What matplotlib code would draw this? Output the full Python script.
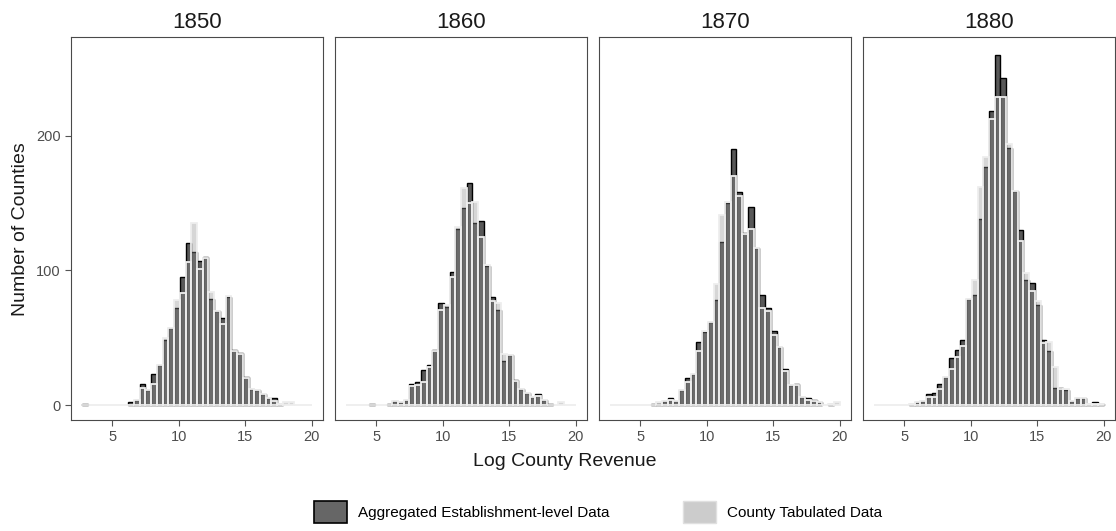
import numpy as np
import matplotlib.pyplot as plt
from matplotlib.patches import Patch

plt.rcParams['font.family'] = ['Liberation Sans', 'DejaVu Sans']

# histogram bins (log county revenue)
bin_edges = np.linspace(2.77, 20.0, 41)

years = ['1850', '1860', '1870', '1880']

# Aggregated establishment-level data (counts per bin)
estab_1850 = [1, 0, 0, 0, 0, 0, 0, 0, 2, 4, 16, 11, 23, 30, 48, 57, 72, 95, 120, 114,
              107, 110, 79, 70, 65, 80, 41, 39, 21, 12, 11, 8, 5, 5, 1, 0, 0, 0, 0, 0]
estab_1860 = [0, 0, 0, 0, 1, 0, 0, 1, 3, 2, 4, 16, 17, 26, 30, 41, 76, 73, 99, 131,
              146, 165, 135, 137, 103, 80, 71, 33, 37, 19, 12, 9, 6, 8, 4, 1, 0, 0, 0, 0]
estab_1870 = [0, 0, 0, 0, 0, 0, 0, 1, 1, 3, 5, 3, 11, 20, 23, 47, 54, 62, 78, 121,
              150, 190, 158, 128, 147, 117, 82, 72, 55, 43, 27, 15, 16, 6, 5, 4, 2, 0, 1, 0]
estab_1880 = [0, 0, 0, 0, 0, 0, 1, 2, 3, 8, 9, 16, 21, 35, 41, 48, 79, 82, 138, 177,
              218, 260, 243, 191, 159, 130, 93, 91, 74, 48, 40, 13, 13, 11, 3, 5, 5, 1, 2, 1]

# County tabulated data (counts per bin)
county_1850 = [0, 0, 0, 0, 0, 0, 0, 0, 0, 4, 13, 11, 16, 30, 50, 57, 78, 83, 106, 135,
               101, 109, 84, 70, 60, 81, 40, 38, 20, 12, 11, 8, 5, 3, 1, 2, 2, 0, 0, 0]
county_1860 = [0, 0, 0, 0, 0, 0, 0, 0, 3, 2, 4, 14, 15, 17, 28, 40, 71, 74, 95, 132,
               161, 150, 151, 125, 104, 77, 76, 38, 37, 18, 12, 9, 6, 7, 4, 0, 0, 2, 0, 0]
county_1870 = [0, 0, 0, 0, 0, 0, 0, 0, 2, 3, 4, 3, 11, 17, 23, 40, 55, 62, 90, 141,
               151, 170, 155, 127, 131, 117, 72, 70, 52, 43, 25, 15, 15, 6, 4, 3, 2, 0, 1, 2]
county_1880 = [0, 0, 0, 0, 0, 0, 1, 2, 3, 6, 6, 12, 21, 27, 36, 44, 79, 93, 162, 184,
               212, 229, 229, 194, 159, 122, 98, 85, 77, 46, 47, 28, 12, 12, 3, 5, 5, 1, 1, 1]

estab = [estab_1850, estab_1860, estab_1870, estab_1880]
county = [county_1850, county_1860, county_1870, county_1880]

dark_fill = '#585858'
light_fill = (0.56, 0.56, 0.56, 0.36)
light_edge = '#eeeeee'
frame_col = '#4a4a4a'
tick_col = '#555555'

W, H = 1116, 531
fig = plt.figure(figsize=(W / 100, H / 100), dpi=100)

left0, step, pw = 71, 264, 252
top, bottom = 37.3, 420
widths = np.diff(bin_edges)

for k, year in enumerate(years):
    ax = fig.add_axes([(left0 + k * step) / W, 1 - bottom / H, pw / W, (bottom - top) / H])
    e = np.array(estab[k])
    c = np.array(county[k])
    m = e > 0
    ax.bar(bin_edges[:-1][m], e[m], width=widths[m], align='edge',
           color=dark_fill, edgecolor='black', linewidth=1.0, zorder=2)
    ax.bar(bin_edges[:-1], c, width=widths, align='edge',
           facecolor=light_fill, edgecolor=light_edge, linewidth=1.3, zorder=3)
    ax.set_xlim(1.91, 20.86)
    ax.set_ylim(-11, 273)
    ax.set_xticks([5, 10, 15, 20])
    ax.set_yticks([0, 100, 200])
    ax.tick_params(colors=tick_col, labelcolor='#4d4d4d', labelsize=10.5, length=4, width=0.8)
    if k > 0:
        ax.tick_params(axis='y', left=False, labelleft=False)
    for s in ax.spines.values():
        s.set_color(frame_col)
        s.set_linewidth(0.8)
    ax.set_title(year, fontsize=16, pad=7, color='#1a1a1a')

fig.text(21 / W, 1 - 229 / H, 'Number of Counties', rotation=90, ha='center', va='center',
         fontsize=14, color='#1a1a1a')
fig.text(565 / W, 1 - 461 / H, 'Log County Revenue', ha='center', va='center',
         fontsize=14, color='#1a1a1a')

handles = [Patch(facecolor='#666666', edgecolor='black', linewidth=1.2),
           Patch(facecolor='#cccccc', edgecolor='#e0e0e0', linewidth=1.0)]
labels = ['Aggregated Establishment-level Data', 'County Tabulated Data']
fig.legend(handles, labels, loc='center', bbox_to_anchor=(598 / W, 1 - 512 / H), ncol=2,
           frameon=False, fontsize=11, handlelength=2.2, handleheight=1.9,
           handletextpad=0.7, columnspacing=4.8)

fig.savefig('out.png', dpi=100)
